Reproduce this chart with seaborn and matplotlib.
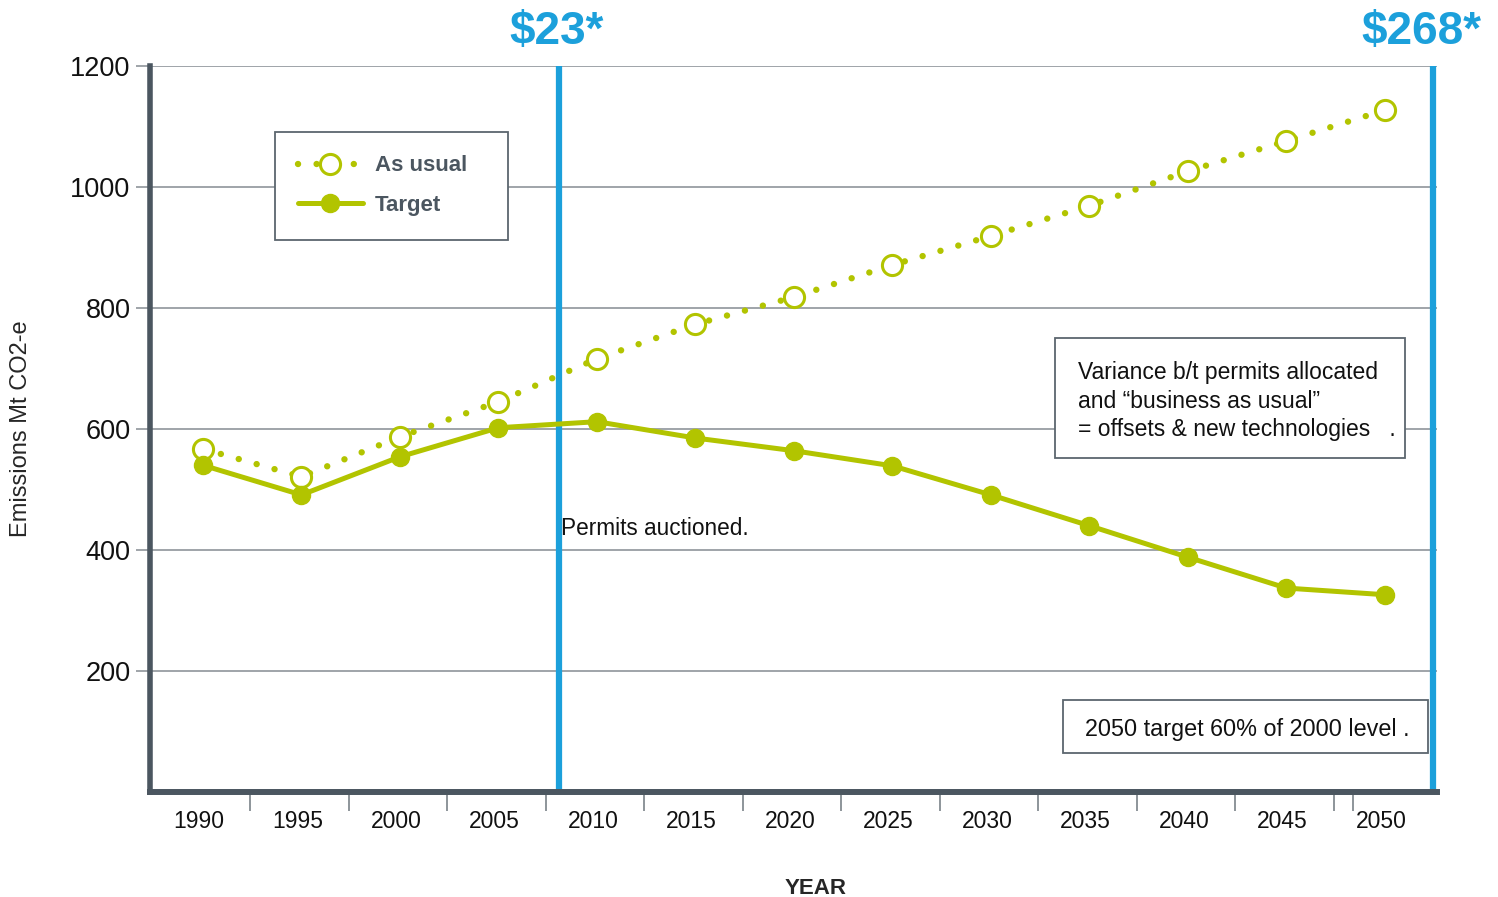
import pandas as pd
import seaborn as sns
import matplotlib.pyplot as plt
import matplotlib.transforms as mtransforms
from matplotlib.patches import Rectangle

# Emissions data (Mt CO2-e)
years = [1990, 1995, 2000, 2005, 2010, 2015, 2020, 2025, 2030, 2035, 2040, 2045, 2050]
as_usual = [567, 521, 587, 645, 716, 773, 818, 871, 919, 969, 1026, 1076, 1127]
target = [540, 491, 554, 602, 612, 585, 564, 539, 491, 440, 388, 337, 326]
y_ticks = [200, 400, 600, 800, 1000, 1200]
price_lines = [2008.1, 2052.45]
price_labels = ['$23*', '$268*']

green = '#b2c400'
blue = '#1ca0db'
dark = '#4b5660'
grid_grey = '#858c92'
box_edge = '#5c666e'

data = pd.DataFrame({'Year': years, 'As usual': as_usual, 'Target': target})

sns.set_style('white')
plt.rcParams['font.family'] = ['Liberation Sans', 'DejaVu Sans']

fig = plt.figure(figsize=(14.98, 8.97), dpi=100)
ax = fig.add_axes([0.1001, 0.1171, 0.8591, 0.8094])

# Horizontal grid lines
for v in y_ticks:
    ax.axhline(v, color=grid_grey, lw=1.1, zorder=0)

# Price lines
for x in price_lines:
    ax.plot([x, x], [0, 1200], color=blue, lw=4.5, solid_capstyle='butt', zorder=1)
for x, dx, lab in zip(price_lines, [-0.15, -0.6], price_labels):
    ax.text(x + dx, 1256, lab, color=blue, fontsize=33, fontweight='bold',
            ha='center', va='center', clip_on=False)

sns.lineplot(data=data, x='Year', y='As usual', ax=ax, color=green, label='As usual',
             linestyle=(0, (0.01, 2.9)), linewidth=4.6, dash_capstyle='round',
             marker='o', markersize=14.5, markerfacecolor='white',
             markeredgecolor=green, markeredgewidth=2.2, zorder=3)
sns.lineplot(data=data, x='Year', y='Target', ax=ax, color=green, label='Target',
             linewidth=3.6, marker='o', markersize=13,
             markerfacecolor=green, markeredgecolor=green, markeredgewidth=1, zorder=3)

ax.set_xlim(1987.31, 2052.64)
ax.set_ylim(0, 1200)

# Axes styling
ax.spines['right'].set_visible(False)
ax.spines['top'].set_visible(False)
ax.spines['left'].set_color(dark)
ax.spines['left'].set_linewidth(4)
ax.spines['bottom'].set_color(dark)
ax.spines['bottom'].set_linewidth(4.3)

ax.set_yticks(y_ticks)
ax.tick_params(axis='y', length=10, width=1.1, color=grid_grey, pad=4,
               labelsize=19.5, labelcolor='#111111', left=True)
ax.set_xticks(years)
ax.tick_params(axis='x', which='major', length=0, pad=13, labelsize=16.5,
               labelcolor='#111111')
shift = mtransforms.ScaledTranslation(-4 / 100, 0, fig.dpi_scale_trans)
for lab in ax.get_xticklabels():
    lab.set_transform(lab.get_transform() + shift)
ax.set_xticks([y + 2.4 for y in years[:-1]] + [2048.4], minor=True)
ax.tick_params(axis='x', which='minor', length=14, width=1.3, color=grid_grey,
               direction='out', bottom=True)

ax.set_xlabel('YEAR', fontsize=16, fontweight='bold')
ax.xaxis.set_label_coords(0.517, -0.118)
ax.set_ylabel('Emissions Mt CO2-e', fontsize=17)
ax.yaxis.set_label_coords(-0.092, 0.5)

# Legend
leg = ax.legend(loc='upper left', bbox_to_anchor=(0.097, 0.709, 0.181, 0.2),
                mode='expand', borderaxespad=0,
                frameon=True, fancybox=False, fontsize=16, handlelength=2.9,
                borderpad=1.05, labelspacing=0.85, handletextpad=0.55)
leg.get_frame().set_edgecolor(box_edge)
leg.get_frame().set_linewidth(1.3)
leg.get_frame().set_alpha(1)
for t in leg.get_texts():
    t.set_color(dark)
    t.set_fontweight('semibold')

# Annotations
ax.text(2008.2, 436, 'Permits auctioned.', fontsize=16.3, ha='left', va='center',
        color='#111111', zorder=4)

ax.add_patch(Rectangle((0.7032, 0.4601), 0.2719, 0.1652, transform=ax.transAxes,
                       facecolor='white', edgecolor=box_edge, lw=1.3, zorder=4))
ax.text(2034.4, 712,
        'Variance b/t permits allocated\nand \u201cbusiness as usual\u201d\n= offsets & new technologies   .',
        fontsize=16.5, ha='left', va='top', color='#111111', linespacing=1.3, zorder=5)

ax.add_patch(Rectangle((0.7094, 0.0537), 0.2836, 0.0730, transform=ax.transAxes,
                       facecolor='white', edgecolor=box_edge, lw=1.3, zorder=4))
ax.text(2034.8, 103, '2050 target 60% of 2000 level .', fontsize=16.8, ha='left', va='center',
        color='#111111', zorder=5)

plt.savefig('out.png', dpi=100)
